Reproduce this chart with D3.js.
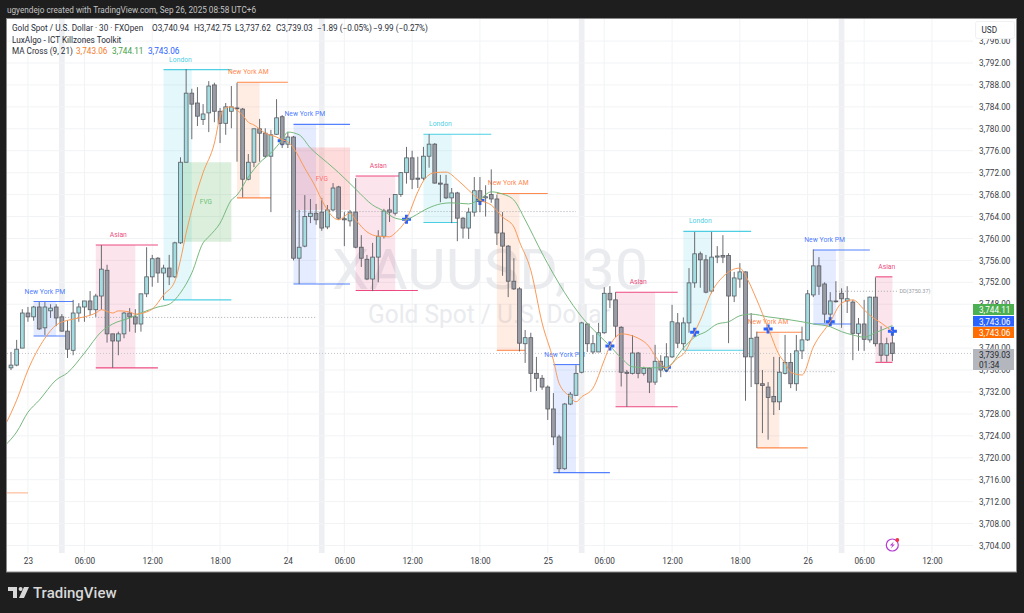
<!DOCTYPE html>
<html>
<head>
<meta charset="utf-8">
<title>XAUUSD 30</title>
<script src="https://cdn.jsdelivr.net/npm/d3@7"></script>
<style>
    html, body { margin: 0; padding: 0; background: #1e1e1e; }
    svg { display: block; }
    text { font-family: Roboto, sans-serif; }
    .axis path { display: none; }
    .axis line { display: none; }
</style>
</head>
<body>
<svg id="chart" width="1024" height="613"></svg>
<script>
// candles (bar 0 is the leftmost one)
var opens = [3736.4,3736.9,3740.0,3746.4,3745.7,3747.5,3743.7,3746.8,3747.5,3745.7,
    3743.1,3739.6,3746.4,3747.5,3748.6,3747.0,3749.5,3754.2,3742.6,3741.3,
    3742.6,3746.4,3745.7,3744.4,3749.9,3753.0,3756.4,3753.7,3754.6,3753.0,
    3759.2,3773.9,3786.5,3784.7,3781.7,3782.9,3788.0,3783.2,3781.0,3783.2,
    3783.8,3783.6,3770.8,3773.9,3780.0,3779.2,3775.0,3779.0,3782.2,3777.2,
    3778.5,3756.4,3758.6,3764.0,3764.6,3764.8,3762.1,3765.2,3769.4,3763.6,
    3763.2,3764.8,3758.4,3756.2,3752.6,3756.6,3760.4,3765.2,3764.6,3768.0,
    3772.0,3774.7,3771.0,3771.0,3775.0,3777.2,3770.1,3769.9,3767.4,3768.3,
    3763.7,3761.9,3764.8,3768.7,3767.4,3768.0,3767.2,3761.0,3758.6,3752.2,
    3750.8,3740.8,3741.9,3735.4,3734.5,3732.9,3728.9,3723.8,3718.0,3729.8,
    3731.4,3735.6,3744.4,3739.3,3739.3,3742.8,3750.0,3748.8,3743.8,3735.6,
    3735.4,3739.1,3735.4,3736.3,3733.8,3737.6,3736.0,3738.4,3744.6,3740.8,
    3744.6,3751.9,3757.2,3756.1,3750.4,3756.6,3756.9,3756.9,3749.5,3752.6,
    3753.9,3738.4,3742.0,3733.5,3732.9,3731.2,3730.2,3735.4,3737.4,3733.5,
    3739.5,3741.5,3749.7,3755.0,3751.7,3746.2,3748.6,3750.0,3748.6,3748.4,
    3742.7,3744.4,3741.5,3749.3,3740.8,3738.7,3740.94];
var highs = [3739.3,3741.5,3747.1,3747.5,3747.7,3748.4,3748.4,3748.0,3748.0,3746.2,
    3745.1,3748.8,3748.2,3748.6,3750.4,3749.9,3758.8,3755.2,3742.6,3743.0,
    3746.6,3747.3,3747.1,3749.9,3758.4,3757.0,3756.6,3755.2,3757.0,3759.4,
    3774.8,3790.9,3787.3,3787.6,3784.5,3788.7,3788.4,3783.8,3784.7,3787.8,
    3788.4,3783.8,3775.4,3780.0,3781.8,3780.1,3779.8,3785.4,3782.5,3779.4,
    3778.7,3765.2,3767.9,3767.2,3766.3,3767.4,3766.1,3770.1,3769.6,3764.8,
    3765.2,3771.0,3760.6,3757.0,3759.2,3761.5,3765.4,3767.4,3768.0,3772.1,
    3776.7,3776.0,3774.9,3776.7,3779.0,3777.4,3771.6,3771.6,3769.2,3768.5,
    3763.9,3765.6,3771.2,3771.2,3769.7,3772.6,3768.0,3764.8,3758.8,3756.4,
    3751.1,3743.3,3742.8,3738.4,3735.1,3733.2,3731.8,3724.2,3730.0,3732.0,
    3736.9,3744.8,3744.6,3742.4,3744.6,3751.1,3751.3,3750.2,3744.0,3736.0,
    3742.4,3739.3,3736.6,3736.5,3740.6,3738.7,3740.9,3747.9,3746.4,3745.6,
    3754.6,3761.2,3757.6,3757.0,3761.2,3758.6,3760.6,3757.3,3753.9,3755.5,
    3754.0,3746.4,3743.0,3736.0,3733.8,3738.4,3738.4,3742.4,3739.1,3742.4,
    3743.9,3750.6,3758.0,3756.6,3752.0,3750.2,3752.2,3750.9,3751.3,3748.8,
    3745.5,3748.8,3749.4,3752.9,3744.0,3741.9,3742.75];
var lows = [3736.0,3736.7,3740.0,3744.8,3745.0,3743.3,3742.4,3745.5,3744.0,3743.0,
    3738.2,3738.7,3744.8,3744.8,3746.0,3745.7,3747.0,3741.0,3736.4,3738.7,
    3741.8,3743.0,3742.8,3743.0,3749.3,3751.2,3751.9,3748.8,3751.5,3752.8,
    3759.0,3773.9,3778.1,3780.5,3780.7,3779.4,3781.2,3777.4,3778.9,3780.1,
    3774.0,3767.5,3770.6,3773.0,3774.0,3774.7,3764.8,3778.9,3776.5,3776.5,
    3756.0,3751.7,3758.4,3762.8,3762.5,3761.4,3761.7,3765.0,3763.4,3758.6,
    3762.2,3758.2,3754.8,3752.4,3750.4,3752.0,3760.0,3763.0,3764.2,3767.6,
    3770.0,3769.0,3769.2,3770.6,3772.9,3770.0,3766.6,3767.2,3762.8,3759.5,
    3760.0,3759.9,3764.0,3764.8,3764.0,3766.5,3758.8,3753.2,3749.3,3750.6,
    3739.4,3737.3,3732.0,3732.2,3732.4,3726.9,3722.3,3717.2,3717.8,3729.6,
    3731.3,3735.4,3739.3,3738.9,3739.3,3742.6,3747.3,3742.0,3733.0,3729.3,
    3735.2,3734.5,3735.0,3731.8,3733.3,3734.7,3735.6,3738.2,3740.0,3739.7,
    3742.8,3751.0,3751.0,3750.0,3750.0,3755.5,3755.5,3740.9,3748.4,3751.0,
    3730.4,3732.9,3721.8,3724.5,3723.3,3727.8,3728.7,3735.2,3732.7,3732.2,
    3738.0,3741.3,3749.3,3749.7,3744.6,3744.2,3748.3,3743.7,3746.4,3737.8,
    3739.5,3739.5,3741.0,3740.3,3737.5,3737.5,3737.62];
var closes = [3736.9,3739.8,3746.4,3745.7,3747.5,3743.5,3747.5,3747.3,3745.5,3743.1,
    3739.8,3746.4,3747.5,3748.6,3747.0,3749.5,3754.4,3742.6,3741.3,3742.6,
    3746.4,3745.7,3744.4,3749.9,3753.0,3756.3,3753.7,3754.6,3753.0,3759.2,
    3773.9,3786.5,3784.5,3782.3,3782.7,3787.8,3783.2,3781.0,3784.0,3784.0,
    3783.7,3770.8,3773.9,3780.0,3779.2,3775.0,3778.9,3782.0,3777.2,3778.5,
    3756.4,3758.4,3764.0,3764.6,3763.4,3761.9,3765.2,3769.2,3763.7,3763.4,
    3764.8,3758.4,3756.4,3752.6,3756.6,3760.4,3765.0,3764.8,3768.0,3772.0,
    3774.7,3770.8,3770.8,3775.0,3777.2,3770.1,3769.9,3767.4,3768.3,3763.7,
    3761.9,3764.8,3768.7,3766.8,3767.6,3767.2,3761.0,3758.6,3752.2,3750.8,
    3740.9,3741.9,3735.4,3734.5,3732.9,3728.9,3723.8,3718.0,3729.8,3731.6,
    3735.4,3744.6,3740.8,3740.8,3742.8,3750.0,3748.8,3744.0,3735.6,3735.4,
    3739.1,3735.4,3736.3,3733.8,3737.6,3736.0,3738.4,3744.8,3740.9,3744.6,
    3751.9,3757.2,3756.1,3750.2,3756.6,3756.8,3756.6,3749.5,3752.8,3753.9,
    3738.4,3741.8,3733.5,3733.2,3731.0,3730.2,3735.6,3737.4,3733.5,3739.5,
    3741.5,3749.9,3755.0,3751.3,3746.2,3748.6,3748.5,3749.0,3749.0,3742.7,
    3744.4,3741.6,3749.3,3740.8,3738.7,3740.8,3739.03];

// moving averages, sampled at these bars
var ma9Bars = [-1,1,3,6,8,11,13,15,16,18,19,21,22,24,25,27,29,30,31,32,34,36,37,38,39,40,41,42,43,45,47,48,49,50,52,54,55,58,60,61,63,65,67,68,70,72,73,75,77,79,81,83,85,87,89,90,92,94,96,97,99,100,101,103,105,106,107,108,111,113,114,116,118,119,121,122,124,126,129,130,132,134,136,137,138,140,142,145,147,149,151,152,154,156];
var ma9Values = [3726.0,3730.5,3736.0,3741.8,3744.2,3745.3,3745.7,3746.4,3747.0,3746.4,3746.8,3746.6,3746.2,3746.6,3747.1,3749.7,3752.2,3756.1,3761.0,3765.2,3772.0,3777.4,3782.2,3783.8,3784.0,3783.4,3782.5,3781.2,3780.7,3779.2,3778.5,3778.0,3777.6,3776.5,3772.8,3769.2,3767.0,3763.4,3764.6,3763.4,3761.2,3760.4,3760.3,3761.0,3763.5,3768.5,3770.5,3772.0,3772.1,3770.7,3768.8,3767.0,3766.1,3763.9,3762.1,3759.4,3754.2,3744.6,3737.8,3733.6,3731.1,3730.2,3731.1,3732.7,3737.8,3740.4,3742.0,3742.6,3741.8,3740.2,3738.6,3736.4,3738.2,3738.9,3742.9,3745.1,3750.2,3753.0,3754.6,3753.2,3748.8,3743.7,3738.7,3737.3,3735.6,3735.1,3740.2,3744.8,3748.2,3748.8,3747.0,3746.0,3744.6,3743.06];
var ma21Bars = [-1,1,3,5,8,10,13,16,18,21,23,26,28,30,32,34,35,37,39,40,42,44,46,48,49,51,53,56,58,61,64,66,68,70,71,74,76,78,81,83,85,87,89,91,94,98,101,104,106,108,110,113,116,119,121,123,125,127,129,131,134,137,140,142,145,147,149,151,153,156];
var ma21Values = [3722.3,3724.7,3728.3,3730.5,3734.2,3735.5,3739.1,3743.0,3744.4,3745.5,3746.4,3747.5,3748.0,3750.1,3753.7,3759.2,3760.3,3762.8,3767.0,3767.9,3771.2,3773.8,3775.6,3778.0,3779.4,3778.9,3776.5,3773.8,3772.0,3769.0,3766.1,3765.0,3763.7,3763.4,3763.9,3765.6,3766.3,3766.5,3766.3,3767.2,3768.5,3768.1,3767.0,3763.4,3757.3,3750.1,3745.7,3742.4,3740.4,3738.2,3736.6,3736.4,3736.5,3740.0,3742.0,3743.0,3744.4,3744.8,3745.9,3746.2,3745.7,3745.3,3744.8,3744.4,3743.9,3743.0,3742.4,3742.0,3742.8,3744.11];

// MA cross markers
var crossBars = [48,70,83,106,116,121,134,145,156];
var crossValues = [3777.8,3763.5,3766.9,3740.4,3736.5,3742.9,3743.5,3744.8,3743.06];

// killzones
var zoneNames = ["New York PM","Asian","London","New York AM","New York PM","Asian","London","New York AM","New York PM","Asian","London","New York AM","New York PM","Asian"];
var zoneStart = [4,15,27,40,50,61,73,86,96,107,119,132,142,153];
var zoneFillEnd = [8,22,32,44,54,68,78,90,100,114,124,136,146,156];
var zoneTopEnd = [11,26,39,49,60,69,85,95,101,118,131,140,152,156];
var zoneBottomEnd = [10,26,39,46,60,72,79,91,106,118,130,141,149,156];
var zoneLabelBar = [6,19,30,42,52,65,76,88,98,111,122,134,144,155];
var zoneTop = [3748.5,3758.8,3790.8,3788.5,3780.8,3771.4,3779.0,3768.2,3737.0,3750.2,3761.3,3742.9,3757.9,3753.0];
var zoneBottom = [3742.2,3736.4,3748.8,3767.4,3751.7,3750.5,3762.9,3739.6,3717.3,3729.3,3739.6,3721.8,3744.4,3737.4];

// fair value gaps
var fvgStart = [30,50];
var fvgEnd = [39,60];
var fvgTop = [3773.9,3776.6];
var fvgBottom = [3759.4,3765.2];

// dotted levels
var levelStart = [8,50,101,146];
var levelEnd = [54,100,146,157];
var levelValues = [3745.6,3764.9,3735.7,3750.37];

// axes
var priceTicks = d3.range(3704, 3797, 4);
var hiddenPriceTick = 3744; // sits fully under the price tags
var timeBars = [3,13,25,37,49,59,71,83,95,105,117,129,141,151,163];
var timeLabels = ["23","06:00","12:00","18:00","24","06:00","12:00","18:00","25","06:00","12:00","18:00","26","06:00","12:00"];
var breakBars = [9,55,101,147];

var lastPrice = 3739.03;

var svg = d3.select('#chart');
var paneL = 7, paneR = 973, paneT = 19, paneB = 553;

var x = d3.scaleLinear().domain([0, 156]).range([11, 892.4]);
var y = d3.scaleLinear().domain([3704, 3792]).range([545.5, 63]);
var step = x(1) - x(0);

var colors = {
    'London': '#22c3dc',
    'New York AM': '#ff6d1f',
    'New York PM': '#2962ff',
    'Asian': '#e91e63'
};

// page and pane
svg.append('rect').attr('width', 1024).attr('height', 613).attr('fill', '#1e1e1e');
svg.append('rect')
    .attr('x', 6.5).attr('y', 18.5).attr('width', 1010).attr('height', 553.5)
    .attr('fill', '#fff').attr('stroke', '#8a8a8a');

svg.append('text').attr('x', 7).attr('y', 13)
    .attr('fill', '#c4c4c4').style('font-size', '8.3px')
    .attr('textLength', 249).attr('lengthAdjust', 'spacingAndGlyphs')
    .text('ugyendejo created with TradingView.com, Sep 26, 2025 08:58 UTC+6');

svg.append('defs').append('clipPath').attr('id', 'pane')
    .append('rect').attr('x', paneL).attr('y', paneT)
    .attr('width', paneR - paneL).attr('height', paneB - paneT);

var pane = svg.append('g').attr('clip-path', 'url(#pane)');

// session breaks
pane.selectAll('.break').data(breakBars).enter().append('rect')
    .attr('class', 'break')
    .attr('x', function(d) { return x(d) - step / 2; })
    .attr('y', paneT).attr('width', step).attr('height', paneB - paneT)
    .attr('fill', '#eeeff2');

// grid
pane.selectAll('.gy').data(priceTicks).enter().append('line')
    .attr('class', 'gy')
    .attr('x1', paneL).attr('x2', paneR)
    .attr('y1', function(d) { return y(d); })
    .attr('y2', function(d) { return y(d); })
    .attr('stroke', '#f2f3f5');
pane.selectAll('.gx').data(timeBars).enter().append('line')
    .attr('class', 'gx')
    .attr('x1', function(d) { return x(d); })
    .attr('x2', function(d) { return x(d); })
    .attr('y1', paneT).attr('y2', paneB)
    .attr('stroke', '#f2f3f5');

// watermark
pane.append('text').attr('x', 332).attr('y', 289)
    .attr('fill', '#e9ebee')
    .attr('textLength', 316).attr('lengthAdjust', 'spacingAndGlyphs')
    .style('font-size', '56px')
    .text('XAUUSD, 30');
pane.append('text').attr('x', 368).attr('y', 323)
    .attr('fill', '#e9ebee')
    .attr('textLength', 242).attr('lengthAdjust', 'spacingAndGlyphs')
    .style('font-size', '25px')
    .text('Gold Spot / U.S. Dollar');

// killzones
var zones = zoneNames.map(function(n, i) { return i; });
pane.selectAll('.zone').data(zones).enter().append('rect')
    .attr('class', 'zone')
    .attr('x', function(i) { return x(zoneStart[i]); })
    .attr('y', function(i) { return y(zoneTop[i]); })
    .attr('width', function(i) { return x(zoneFillEnd[i]) - x(zoneStart[i]); })
    .attr('height', function(i) { return y(zoneBottom[i]) - y(zoneTop[i]); })
    .attr('fill', function(i) { return colors[zoneNames[i]]; })
    .attr('fill-opacity', 0.12);

// fvg boxes
var fvgColors = ['#4caf50', '#ff5252'];
var fvgs = pane.selectAll('.fvg').data(fvgStart).enter().append('g').attr('class', 'fvg');
fvgs.append('rect')
    .attr('x', function(d, i) { return x(fvgStart[i]); })
    .attr('y', function(d, i) { return y(fvgTop[i]); })
    .attr('width', function(d, i) { return x(fvgEnd[i]) - x(fvgStart[i]); })
    .attr('height', function(d, i) { return y(fvgBottom[i]) - y(fvgTop[i]); })
    .attr('fill', function(d, i) { return fvgColors[i]; })
    .attr('fill-opacity', 0.2);
fvgs.append('text')
    .attr('x', function(d, i) { return (x(fvgStart[i]) + x(fvgEnd[i])) / 2; })
    .attr('y', function(d, i) { return (y(fvgTop[i]) + y(fvgBottom[i])) / 2 + 2.5; })
    .attr('text-anchor', 'middle')
    .attr('fill', function(d, i) { return fvgColors[i]; })
    .attr('fill-opacity', 0.8)
    .style('font-size', '6.5px')
    .text('FVG');

// dotted levels
pane.selectAll('.level').data(levelValues).enter().append('line')
    .attr('class', 'level')
    .attr('x1', function(d, i) { return x(levelStart[i]); })
    .attr('x2', function(d, i) { return x(levelEnd[i]); })
    .attr('y1', function(d) { return y(d); })
    .attr('y2', function(d) { return y(d); })
    .attr('stroke', '#a8abb2').attr('stroke-dasharray', '1 2');
pane.append('text').attr('x', x(156) + 7).attr('y', y(3750.37) + 2)
    .attr('fill', '#9a9da5').style('font-size', '5.5px').text('DD(3750.37)');
pane.append('line')
    .attr('x1', paneL).attr('x2', paneR)
    .attr('y1', y(lastPrice)).attr('y2', y(lastPrice))
    .attr('stroke', '#c4c6cc').attr('stroke-dasharray', '1 2');

// leftover level on the far left
pane.append('line')
    .attr('x1', x(-1)).attr('x2', x(3))
    .attr('y1', y(3713.6)).attr('y2', y(3713.6))
    .attr('stroke', '#ff6d1f').attr('stroke-opacity', 0.45).attr('stroke-width', 1.2);

// zone lines and labels
pane.selectAll('.ztop').data(zones).enter().append('line')
    .attr('class', 'ztop')
    .attr('x1', function(i) { return x(zoneStart[i]); })
    .attr('x2', function(i) { return x(zoneTopEnd[i]); })
    .attr('y1', function(i) { return y(zoneTop[i]); })
    .attr('y2', function(i) { return y(zoneTop[i]); })
    .attr('stroke', function(i) { return colors[zoneNames[i]]; })
    .attr('stroke-opacity', 0.8).attr('stroke-width', 1.1);
pane.selectAll('.zbot').data(zones).enter().append('line')
    .attr('class', 'zbot')
    .attr('x1', function(i) { return x(zoneStart[i]); })
    .attr('x2', function(i) { return x(zoneBottomEnd[i]); })
    .attr('y1', function(i) { return y(zoneBottom[i]); })
    .attr('y2', function(i) { return y(zoneBottom[i]); })
    .attr('stroke', function(i) { return colors[zoneNames[i]]; })
    .attr('stroke-opacity', 0.8).attr('stroke-width', 1.1);
pane.selectAll('.zlabel').data(zones).enter().append('text')
    .attr('class', 'zlabel')
    .attr('x', function(i) { return x(zoneLabelBar[i]); })
    .attr('y', function(i) { return y(zoneTop[i]) - 8; })
    .attr('text-anchor', 'middle')
    .attr('fill', function(i) { return colors[zoneNames[i]]; })
    .attr('fill-opacity', 0.85)
    .style('font-size', '6.8px')
    .text(function(i) { return zoneNames[i]; });

// cross markers sit under the candles
pane.selectAll('.cross').data(crossBars).enter().append('path')
    .attr('class', 'cross')
    .attr('d', d3.symbol().type(d3.symbolCross).size(45))
    .attr('transform', function(d, i) { return 'translate(' + x(d) + ',' + y(crossValues[i]) + ')'; })
    .attr('fill', '#2962ff');

// candles
var bars = d3.range(opens.length);
var wickColor = '#5a5c62';
pane.selectAll('.wick').data(bars).enter().append('line')
    .attr('class', 'wick')
    .attr('x1', function(i) { return x(i); })
    .attr('x2', function(i) { return x(i); })
    .attr('y1', function(i) { return y(highs[i]); })
    .attr('y2', function(i) { return y(lows[i]); })
    .attr('stroke', wickColor).attr('stroke-width', 0.9);
pane.selectAll('.body').data(bars).enter().append('rect')
    .attr('class', 'body')
    .attr('x', function(i) { return x(i) - 1.9; })
    .attr('width', 3.8)
    .attr('y', function(i) { return y(Math.max(opens[i], closes[i])); })
    .attr('height', function(i) { return Math.max(0.8, Math.abs(y(opens[i]) - y(closes[i]))); })
    .attr('fill', function(i) { return closes[i] >= opens[i] ? '#a3dde1' : '#9a9ca5'; })
    .attr('stroke', wickColor).attr('stroke-width', 0.8);

// moving averages
var line = d3.line().curve(d3.curveMonotoneX)
    .x(function(d) { return x(d[0]); })
    .y(function(d) { return y(d[1]); });
pane.append('path').attr('d', line(d3.zip(ma21Bars, ma21Values)))
    .attr('fill', 'none').attr('stroke', '#77b87e').attr('stroke-width', 1);
pane.append('path').attr('d', line(d3.zip(ma9Bars, ma9Values)))
    .attr('fill', 'none').attr('stroke', '#fb9a58').attr('stroke-width', 1);

// alert icon
var icon = svg.append('g').attr('transform', 'translate(892.3,545)');
icon.append('circle').attr('r', 6).attr('fill', '#fff').attr('stroke', '#b43bd0').attr('stroke-width', 1.2);
icon.append('path').attr('d', 'M1.5,-3.5L-2.5,0.6H0L-1.5,3.5L2.5,-0.6H0Z').attr('fill', '#b43bd0');
icon.append('circle').attr('cx', 5).attr('cy', -5).attr('r', 1.9).attr('fill', '#f23645');

// price axis
var priceAxis = d3.axisRight(y)
    .tickValues(priceTicks.filter(function(d) { return d != hiddenPriceTick; }))
    .tickSize(0).tickPadding(6)
    .tickFormat(d3.format(',.2f'));
svg.append('g').attr('class', 'axis').attr('transform', 'translate(' + paneR + ',0)').call(priceAxis)
    .selectAll('text').attr('fill', '#3a3d45').style('font-size', '8.2px');

svg.append('rect').attr('x', 975.5).attr('y', 21.5).attr('width', 39).attr('height', 17)
    .attr('rx', 2).attr('fill', '#fff').attr('stroke', '#f0f1f3');
svg.append('text').attr('x', 981.5).attr('y', 33).attr('fill', '#2a2e39')
    .style('font-size', '8.2px').text('USD');

// time axis
var timeAxis = d3.axisBottom(x).tickValues(timeBars).tickSize(0).tickPadding(5)
    .tickFormat(function(d, i) { return timeLabels[i]; });
svg.append('g').attr('class', 'axis').attr('transform', 'translate(0,' + paneB + ')').call(timeAxis)
    .selectAll('text').attr('fill', '#3a3d45').style('font-size', '8.2px');

// price tags on the axis
var tagText = [d3.format(',.2f')(ma21Values[ma21Values.length - 1]), d3.format(',.2f')(crossValues[crossValues.length - 1]), d3.format(',.2f')(ma9Values[ma9Values.length - 1])];
var tagColors = ['#4caf50', '#2962ff', '#ff6d00'];
var tagTop = [304, 316, 327];
tagText.forEach(function(t, i) {
    svg.append('rect').attr('x', 973).attr('y', tagTop[i]).attr('width', 41).attr('height', i == 1 ? 10.5 : 11)
        .attr('fill', tagColors[i]);
    svg.append('text').attr('x', 979).attr('y', tagTop[i] + 8.7).attr('fill', '#fff')
        .style('font-size', '8.2px').text(t);
});
svg.append('rect').attr('x', 973).attr('y', 349).attr('width', 41).attr('height', 21).attr('fill', '#b4b6be');
svg.append('text').attr('x', 979).attr('y', 358).attr('fill', '#26282e')
    .style('font-size', '8.2px').text(d3.format(',.2f')(lastPrice));
svg.append('text').attr('x', 979).attr('y', 367.5).attr('fill', '#26282e')
    .style('font-size', '8.2px').text('01:34');

// legend
var legend = [
    [12, 31, 'Gold Spot / U.S. Dollar · 30 · FXOpen', '#2a2e39'],
    [152, 31, 'O3,740.94', '#2a2e39'],
    [194, 31, 'H3,742.75', '#2a2e39'],
    [235, 31, 'L3,737.62', '#2a2e39'],
    [276, 31, 'C3,739.03', '#2a2e39'],
    [317, 31, '−1.89 (−0.05%)', '#2a2e39'],
    [373, 31, '−9.99 (−0.27%)', '#2a2e39'],
    [12, 43, 'LuxAlgo - ICT Killzones Toolkit', '#2a2e39'],
    [12, 54, 'MA Cross (9, 21)', '#2a2e39'],
    [76, 54, '3,743.06', '#f57c2c'],
    [112, 54, '3,744.11', '#43a047'],
    [148, 54, '3,743.06', '#2962ff']
];
svg.selectAll('.legend').data(legend).enter().append('text')
    .attr('class', 'legend')
    .attr('x', function(d) { return d[0]; })
    .attr('y', function(d) { return d[1]; })
    .attr('fill', function(d) { return d[3]; })
    .style('font-size', '8.2px')
    .text(function(d) { return d[2]; });

// logo
var logo = svg.append('g').attr('fill', '#d8d8d8');
logo.append('path').attr('d', 'M8,587H17V598H13V591H8Z');
logo.append('circle').attr('cx', 20.6).attr('cy', 589).attr('r', 2);
logo.append('path').attr('d', 'M24,587H29L24,598H19Z');
svg.append('text').attr('x', 33).attr('y', 598)
    .attr('fill', '#d8d8d8').style('font-size', '15px').style('font-weight', '500')
    .text('TradingView');
</script>
</body>
</html>
